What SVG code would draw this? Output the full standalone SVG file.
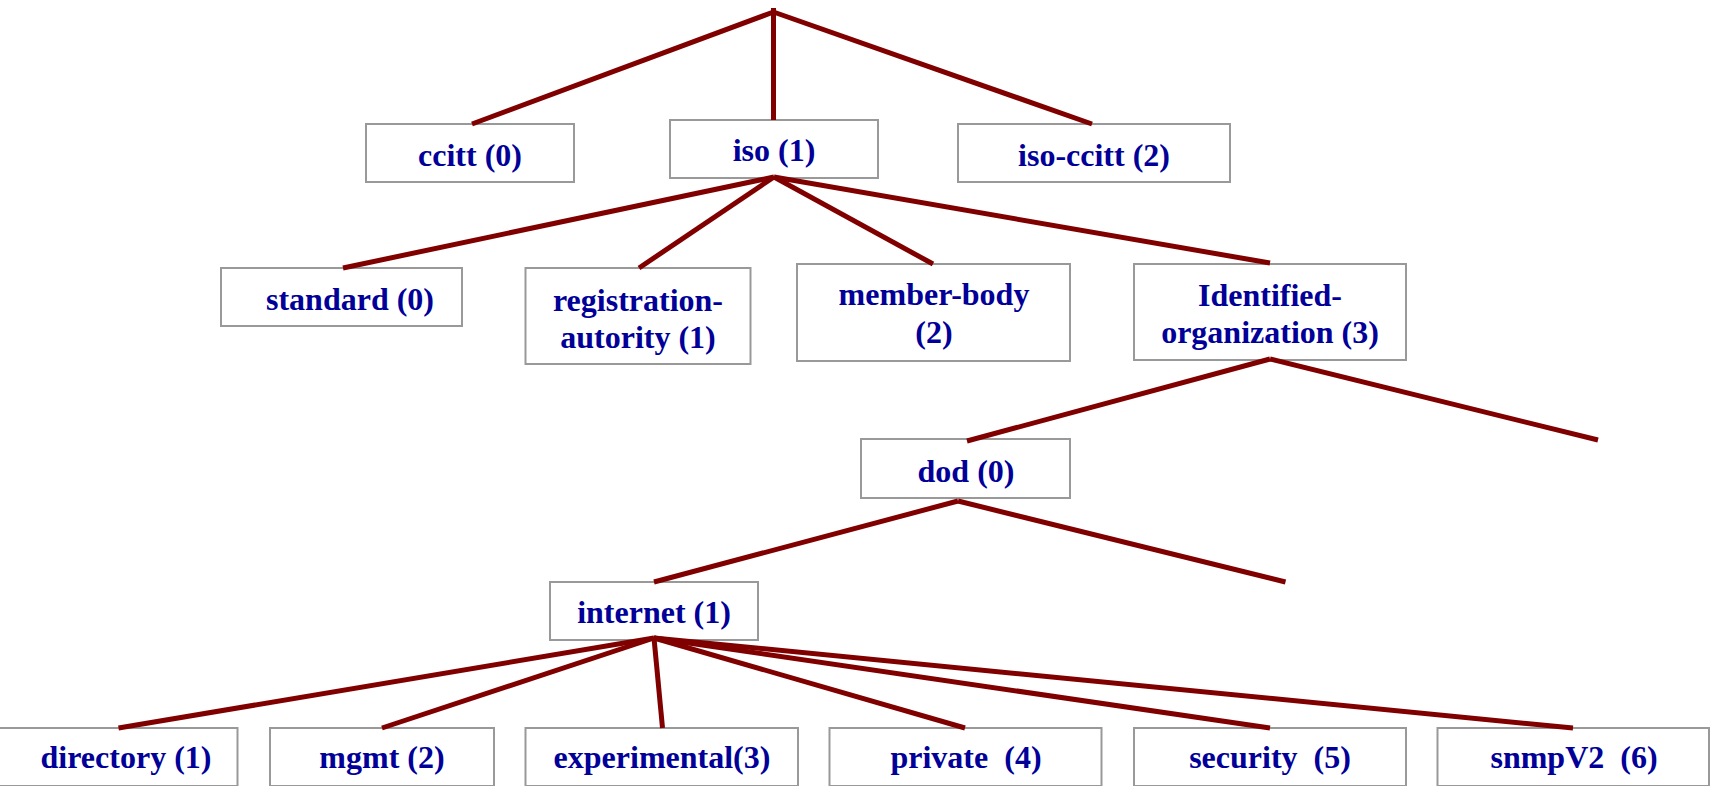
<svg xmlns="http://www.w3.org/2000/svg" width="1710" height="786" viewBox="0 0 1710 786">
<style>
.box{fill:#ffffff;stroke:#999999;stroke-width:2}
.lbl{font-family:"Liberation Serif","Times New Roman",serif;font-weight:bold;font-size:32px;fill:#000099;text-anchor:middle;white-space:pre}
.edge{stroke:#800000;stroke-width:5;fill:none;stroke-linecap:butt}
</style>
<rect width="1710" height="786" fill="#ffffff"/>
<g id="nodes">
<g id="ccitt"><rect class="box" x="366" y="124" width="208" height="58"/><text class="lbl" x="470" y="166">ccitt (0)</text></g>
<g id="iso"><rect class="box" x="670" y="120" width="208" height="58"/><text class="lbl" x="774" y="161">iso (1)</text></g>
<g id="iso-ccitt"><rect class="box" x="958" y="124" width="272" height="58"/><text class="lbl" x="1094" y="166">iso-ccitt (2)</text></g>
<g id="standard"><rect class="box" x="221" y="268" width="241" height="58"/><text class="lbl" x="350" y="310">standard (0)</text></g>
<g id="registration"><rect class="box" x="525.5" y="268" width="225" height="96"/><text class="lbl" x="638" y="311">registration-</text><text class="lbl" x="638" y="348">autority (1)</text></g>
<g id="member-body"><rect class="box" x="797" y="264" width="273" height="97"/><text class="lbl" x="934" y="305">member-body</text><text class="lbl" x="934" y="343">(2)</text></g>
<g id="identified"><rect class="box" x="1134" y="264" width="272" height="96"/><text class="lbl" x="1270" y="306">Identified-</text><text class="lbl" x="1270" y="343">organization (3)</text></g>
<g id="dod"><rect class="box" x="861" y="439" width="209" height="59"/><text class="lbl" x="966" y="482">dod (0)</text></g>
<g id="internet"><rect class="box" x="550" y="582" width="208" height="58"/><text class="lbl" x="654" y="623">internet (1)</text></g>
<g id="directory"><rect class="box" x="-1" y="728" width="238.5" height="58"/><text class="lbl" x="126" y="768">directory (1)</text></g>
<g id="mgmt"><rect class="box" x="270" y="728" width="224" height="58"/><text class="lbl" x="382" y="768">mgmt (2)</text></g>
<g id="experimental"><rect class="box" x="525.5" y="728" width="272.5" height="58"/><text class="lbl" x="662" y="768">experimental(3)</text></g>
<g id="private"><rect class="box" x="829.5" y="728" width="272" height="58"/><text class="lbl" x="966" y="768">private  (4)</text></g>
<g id="security"><rect class="box" x="1134" y="728" width="272" height="58"/><text class="lbl" x="1270" y="768">security  (5)</text></g>
<g id="snmpV2"><rect class="box" x="1437.5" y="728" width="271.5" height="58"/><text class="lbl" x="1574" y="768">snmpV2  (6)</text></g>
</g>
<g id="connectors" class="edge">
<line x1="773.5" y1="8" x2="773.5" y2="120"/>
<line x1="773.5" y1="12" x2="472" y2="124"/>
<line x1="773.5" y1="12" x2="1092" y2="124"/>
<line x1="774" y1="177" x2="343" y2="268"/>
<line x1="774" y1="177" x2="639" y2="268"/>
<line x1="774" y1="177" x2="933" y2="264"/>
<line x1="774" y1="177" x2="1270" y2="263"/>
<line x1="1270" y1="359" x2="967" y2="441"/>
<line x1="1270" y1="359" x2="1598" y2="440"/>
<line x1="958" y1="501" x2="654" y2="582"/>
<line x1="958" y1="501" x2="1285.5" y2="582"/>
<line x1="654" y1="638" x2="118.5" y2="728"/>
<line x1="654" y1="638" x2="382" y2="728"/>
<line x1="654" y1="638" x2="662.5" y2="728"/>
<line x1="654" y1="638" x2="965" y2="728"/>
<line x1="654" y1="638" x2="1270" y2="728"/>
<line x1="654" y1="638" x2="1573" y2="728"/>
</g>
</svg>
